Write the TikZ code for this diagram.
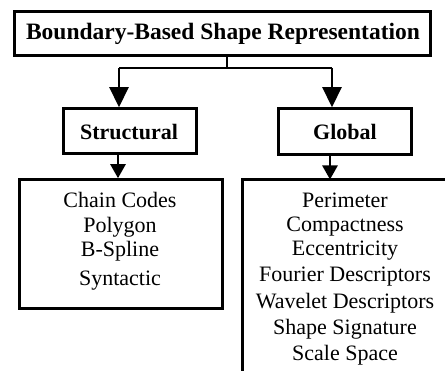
\documentclass[tikz,border=0pt]{standalone}
\usepackage{fontspec}
\setmainfont{Liberation Serif}
\usetikzlibrary{arrows.meta}
\begin{document}
\begin{tikzpicture}[x=1pt,y=-1pt,
  box/.style={draw,line width=2.6pt,inner sep=0pt},
  conn/.style={line width=2.6pt},
  bigarr/.style={line width=2.6pt,-{Triangle[width=19pt,length=20pt]}},
  smallarr/.style={line width=2.6pt,-{Triangle[width=15pt,length=14pt]}},
  title/.style={font=\fontsize{23.5}{26}\selectfont\bfseries,inner sep=0pt},
  head/.style={font=\fontsize{22}{24}\selectfont\bfseries,inner sep=0pt},
  item/.style={font=\fontsize{22}{24}\selectfont,inner sep=0pt}]
\useasboundingbox (0,0) rectangle (445,371);
% boxes
\node[box,minimum width=416pt,minimum height=44pt] (top) at (222.5,33.5) {};
\node[title] (toptxt) at (223,34) {Boundary-Based Shape Representation};
\node[box,minimum width=133pt,minimum height=45pt] (st) at (130,131) {};
\node[head] (sttxt) at (129,132) {Structural};
\node[box,minimum width=133pt,minimum height=46pt] (gl) at (345,131.5) {};
\node[head] (gltxt) at (345,132) {Global};
\node[box,minimum width=203pt,minimum height=129pt] (cl) at (121,244) {};
\draw[line width=2.6pt] (460,179.5) -- (242.5,179.5) -- (242.5,400);
\coordinate (glbox) at (242.5,179.5);
% connectors
\coordinate (j) at (227,68);
\coordinate (jl) at (119,68);
\coordinate (jr) at (332,68);
\draw[conn] (top.south -| j) -- (j);
\draw[conn] (jl) -- (jr);
\draw[bigarr] (jl) -- (jl |- st.north);
\draw[bigarr] (jr) -- (jr |- gl.north);
\coordinate (sl) at (118,154);
\coordinate (gr) at (330,155);
\draw[smallarr] (sl) -- (sl |- cl.north);
\draw[smallarr] (gr) -- (gr |- glbox);
% lists
\node[item] (a1) at (120,200) {Chain Codes};
\node[item] (a2) at (120,227) {Polygon};
\node[item] (a3) at (120,251) {B-Spline};
\node[item] (a4) at (120,281) {Syntactic};
\node[item] (b1) at (345,200) {Perimeter};
\node[item] (b2) at (345,227) {Compactness};
\node[item] (b3) at (345,251) {Eccentricity};
\node[item] (b4) at (345,277) {Fourier Descriptors};
\node[item] (b5) at (345,303) {Wavelet Descriptors};
\node[item] (b6) at (345,329) {Shape Signature};
\node[item] (b7) at (345,355) {Scale Space};
\end{tikzpicture}
\end{document}
